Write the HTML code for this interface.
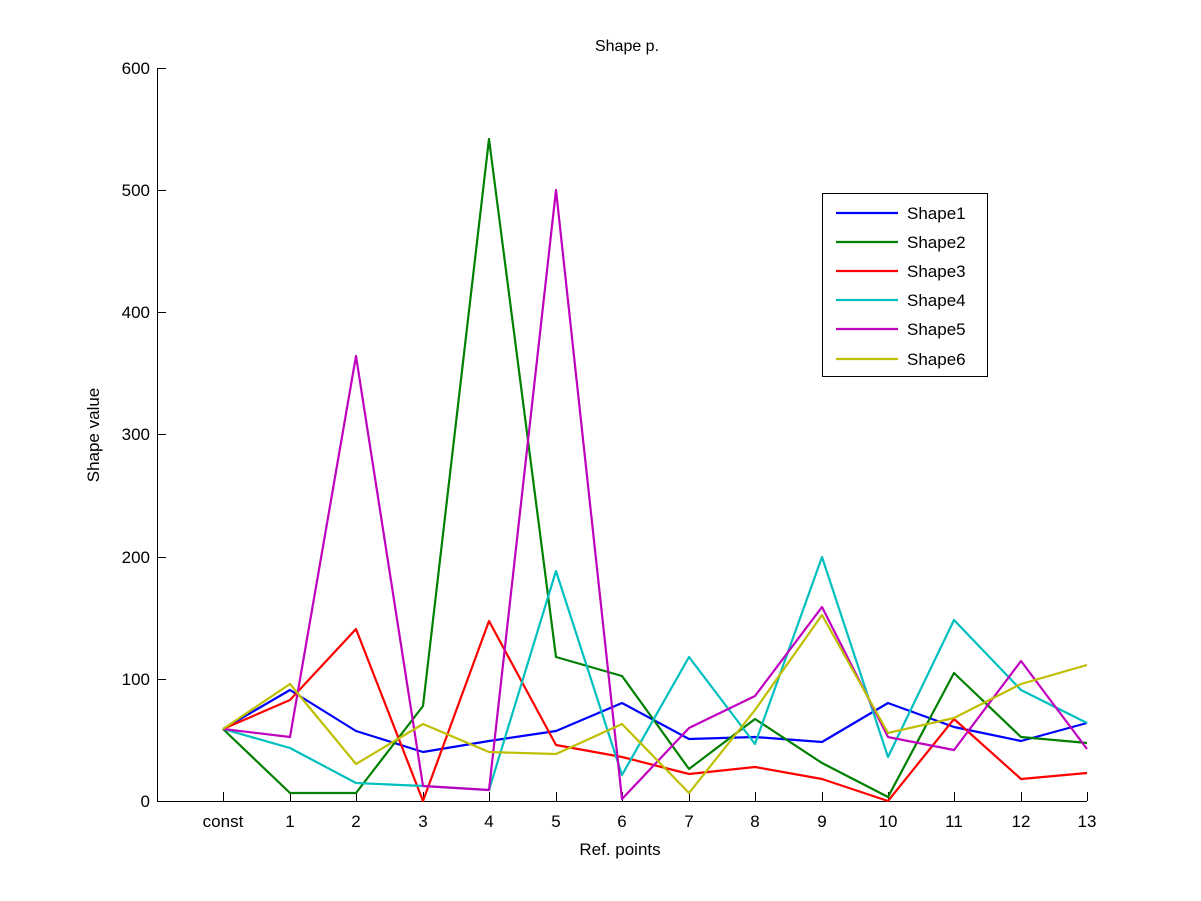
<!DOCTYPE html>
<html><head><style>body{margin:0;background:#fff}svg{display:block}text{font-family:"Liberation Sans",sans-serif;fill:#000}</style></head><body>
<svg width="1201" height="901" viewBox="0 0 1201 901" xmlns="http://www.w3.org/2000/svg">
<rect width="1201" height="901" fill="#fff"/>
<g stroke="#000" stroke-width="1" fill="none">
<line x1="157.5" y1="68" x2="157.5" y2="801.5"/>
<line x1="157" y1="801.5" x2="1087" y2="801.5"/>
<path d="M157 801.5h9M157 679.5h9M157 557.5h9M157 434.5h9M157 312.5h9M157 190.5h9M157 68.5h9"/>
<path d="M223.5 801v-9M290.5 801v-9M356.5 801v-9M423.5 801v-9M489.5 801v-9M556.5 801v-9M622.5 801v-9M689.5 801v-9M755.5 801v-9M822.5 801v-9M888.5 801v-9M954.5 801v-9M1021.5 801v-9M1087.5 801v-9"/>
</g>
<g font-size="17" text-anchor="end">
<text x="150" y="807">0</text><text x="150" y="685">100</text><text x="150" y="563">200</text><text x="150" y="440">300</text><text x="150" y="318">400</text><text x="150" y="196">500</text><text x="150" y="74">600</text>
</g>
<g font-size="17" text-anchor="middle">
<text x="223" y="827">const</text><text x="290" y="827">1</text><text x="356" y="827">2</text><text x="423" y="827">3</text><text x="489" y="827">4</text><text x="556" y="827">5</text><text x="622" y="827">6</text><text x="689" y="827">7</text><text x="755" y="827">8</text><text x="822" y="827">9</text><text x="888" y="827">10</text><text x="954" y="827">11</text><text x="1021" y="827">12</text><text x="1087" y="827">13</text>
<text x="620" y="855">Ref. points</text>
<text x="627" y="51" font-size="16">Shape p.</text>
<text transform="translate(99,435) rotate(-90)">Shape value</text>
</g>
<g fill="none" stroke-width="2.2" stroke-linejoin="round">
<polyline stroke="#0000ff" points="223,729 290,690 356,731 423,752 489,741 556,731 622,703 689,739 755,737 822,742 888,703 954,727 1021,741 1087,723"/>
<polyline stroke="#008000" points="223,729 290,793 356,793 423,706 489,139 556,657 622,676 689,769 755,719 822,763 888,797 954,673 1021,737 1087,743"/>
<polyline stroke="#ff0000" points="223,729 290,700 356,629 423,801 489,621 556,745 622,757 689,774 755,767 822,779 888,801 954,719 1021,779 1087,773"/>
<polyline stroke="#00bfbf" points="223,729 290,748 356,783 423,786 489,790 556,571 622,775 689,657 755,744 822,557 888,757 954,620 1021,690 1087,723"/>
<polyline stroke="#bf00bf" points="223,729 290,737 356,356 423,786 489,790 556,190 622,799 689,728 755,696 822,607 888,737 954,750 1021,661 1087,749"/>
<polyline stroke="#bfbf00" points="223,729 290,684 356,764 423,724 489,752 556,754 622,724 689,793 755,710 822,615 888,733 954,718 1021,684 1087,665"/>
</g>
<rect x="822.5" y="193.5" width="165" height="183" fill="#fff" stroke="#000"/>
<g stroke-width="2.2">
<line x1="836" y1="213" x2="898" y2="213" stroke="#0000ff"/>
<line x1="836" y1="242" x2="898" y2="242" stroke="#008000"/>
<line x1="836" y1="271" x2="898" y2="271" stroke="#ff0000"/>
<line x1="836" y1="300" x2="898" y2="300" stroke="#00bfbf"/>
<line x1="836" y1="329" x2="898" y2="329" stroke="#bf00bf"/>
<line x1="836" y1="359" x2="898" y2="359" stroke="#bfbf00"/>
</g>
<g font-size="17">
<text x="907" y="219">Shape1</text><text x="907" y="248">Shape2</text><text x="907" y="277">Shape3</text><text x="907" y="306">Shape4</text><text x="907" y="335">Shape5</text><text x="907" y="365">Shape6</text>
</g>
</svg>
</body></html>
